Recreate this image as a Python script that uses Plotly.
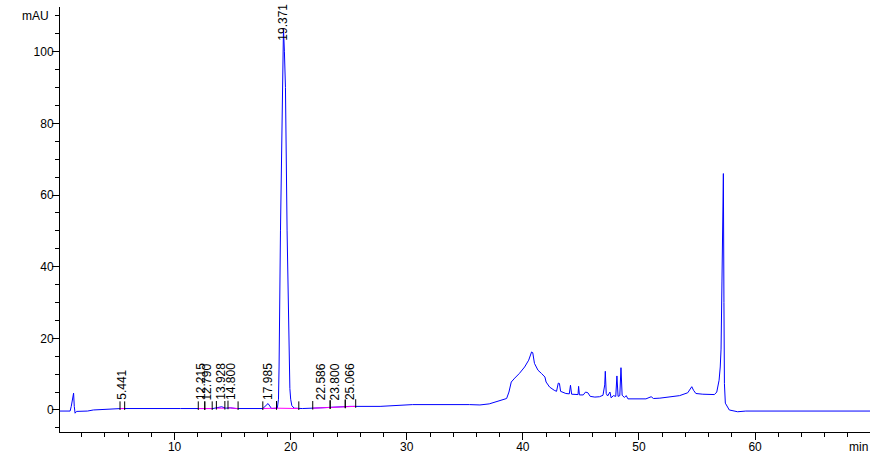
import plotly.graph_objects as go

# Chromatogram trace (time in min, signal in mAU)
time_min = [0.13, 1.0, 1.1, 1.2, 1.3, 1.36, 1.43, 1.55, 2.5, 3.0, 4.4, 5.4, 10.5, 12.0, 12.3, 12.6,
            12.9, 13.3, 14.05, 14.4, 14.8, 15.3, 17.6, 18.05, 18.35, 18.85, 18.95, 19.0, 19.12, 19.3,
            19.38, 19.46, 19.55, 19.69, 19.8, 19.86, 19.93, 20.0, 20.1, 20.3, 21.0, 22.6, 23.8, 25.1,
            27.7, 30.5, 35.4, 36.3, 37.1, 38.0, 38.6, 38.8, 39.0, 39.3, 39.7, 40.15, 40.5, 40.75,
            40.85, 41.0, 41.3, 41.6, 41.9, 42.0, 42.3, 42.7, 42.9, 43.05, 43.15, 43.25, 43.7, 44.0,
            44.1, 44.2, 44.6, 44.75, 44.8, 44.87, 45.2, 45.4, 45.6, 45.8, 46.2, 46.6, 46.9, 47.05,
            47.1, 47.18, 47.3, 47.5, 47.6, 47.8, 48.0, 48.1, 48.2, 48.35, 48.45, 48.55, 48.75, 48.9,
            49.05, 50.6, 51.05, 51.25, 51.8, 53.5, 54.2, 54.4, 54.55, 54.7, 54.9, 55.5, 56.5, 56.7,
            56.9, 57.0, 57.07, 57.15, 57.22, 57.27, 57.32, 57.36, 57.44, 57.78, 58.5, 59.2, 69.9]
signal_mau = [-0.3, -0.3, 1.0, 2.5, 4.7, 1.0, -0.9, -0.4, -0.3, 0.0, 0.2, 0.4, 0.4, 0.4, 0.5, 0.4,
              0.5, 0.4, 0.9, 0.5, 0.6, 0.4, 0.4, 1.8, 0.4, 0.5, 3.0, 12.0, 50.0, 92.0,
              106.5, 100.0, 90.0, 50.0, 24.0, 14.0, 6.0, 3.0, 1.2, 0.5, 0.4, 0.6, 0.8, 1.0,
              1.0, 1.5, 1.5, 1.4, 1.7, 2.5, 3.2, 5.0, 7.8, 8.9, 10.2, 12.0, 13.9, 16.2,
              16.0, 13.0, 11.1, 10.2, 9.2, 7.8, 6.4, 5.5, 5.2, 7.5, 7.4, 5.2, 4.6, 4.5,
              6.9, 4.4, 4.2, 4.3, 6.6, 4.2, 4.2, 5.0, 4.8, 3.8, 3.6, 3.7, 4.1, 7.0,
              10.8, 4.6, 3.9, 5.0, 3.4, 4.0, 3.8, 9.5, 3.8, 4.0, 11.8, 4.1, 3.5, 4.0,
              3.1, 3.1, 3.7, 3.2, 3.3, 4.0, 4.8, 6.0, 6.5, 5.5, 4.6, 4.4, 4.3, 5.0,
              8.3, 12.0, 17.0, 36.0, 55.0, 66.0, 30.0, 7.4, 1.9, 0.0, -0.5, -0.3, -0.3]

# Peak retention-time labels
peak_rt = [5.441, 12.215, 12.790, 13.928, 14.800, 17.985, 19.371, 22.586, 23.800, 25.066]
peak_label_y = [2.2, 2.2, 2.2, 2.2, 2.2, 2.2, 102.5, 2.2, 2.2, 2.2]

# Integration baselines (start/end time and level)
base_start = [5.30, 12.04, 12.60, 13.60, 14.60, 17.60, 18.78, 21.90, 23.40, 24.70]
base_end = [5.70, 12.60, 13.24, 14.33, 15.47, 18.78, 20.70, 23.40, 24.70, 25.60]
base_start_lvl = [0.4, 0.4, 0.4, 0.5, 0.6, 0.4, 0.5, 0.5, 0.7, 0.9]
base_end_lvl = [0.4, 0.4, 0.4, 0.5, 0.4, 0.5, 0.4, 0.7, 0.9, 1.0]

# x / y ticks
x_tickvals = [10, 20, 30, 40, 50, 60]
y_tickvals = [0, 20, 40, 60, 80, 100]

FONT = "Liberation Sans, Arial, sans-serif"

fig = go.Figure()

fig.add_trace(go.Scatter(x=time_min, y=signal_mau, mode="lines",
                         line=dict(color="#0000FF", width=1), hoverinfo="skip"))

# magenta baseline segments
bx, by = [], []
for s, e, ls, le in zip(base_start, base_end, base_start_lvl, base_end_lvl):
    bx += [s, e, None]
    by += [ls, le, None]
fig.add_trace(go.Scatter(x=bx, y=by, mode="lines",
                         line=dict(color="#FF00FF", width=1), hoverinfo="skip"))

# black start/end tick marks
tx, ty = [], []
for s, e, ls, le in zip(base_start, base_end, base_start_lvl, base_end_lvl):
    tx += [s, s, None, e, e, None]
    ty += [ls - 0.4, ls + 2.0, None, le - 0.4, le + 2.0, None]
fig.add_trace(go.Scatter(x=tx, y=ty, mode="lines",
                         line=dict(color="black", width=1), hoverinfo="skip"))

annotations = []
for rt, ly in zip(peak_rt, peak_label_y):
    annotations.append(dict(x=rt, y=ly, xref="x", yref="y", text=f"{rt:.3f}",
                            textangle=-90, showarrow=False, xanchor="center",
                            yanchor="bottom", font=dict(family=FONT, size=12, color="black")))
annotations.append(dict(x=0, y=110, xref="paper", yref="y", text="mAU", showarrow=False,
                        xanchor="right", yanchor="middle", xshift=-9,
                        font=dict(family=FONT, size=12, color="black")))
annotations.append(dict(x=1, y=0, xref="paper", yref="paper", text="min", showarrow=False,
                        xanchor="right", yanchor="top", yshift=-6,
                        font=dict(family=FONT, size=12, color="black")))

fig.update_layout(
    width=871, height=453,
    margin=dict(l=60, r=1, t=7, b=21, autoexpand=False),
    paper_bgcolor="white", plot_bgcolor="white",
    showlegend=False,
    annotations=annotations,
    xaxis=dict(range=[0.13, 69.9], showline=True, linecolor="black", linewidth=1,
               automargin=False, ticklabelstandoff=-3,
               ticks="outside", ticklen=7, tickcolor="black", tickwidth=1,
               tickvals=x_tickvals, ticktext=[str(v) for v in x_tickvals],
               showgrid=False, zeroline=False,
               tickfont=dict(family=FONT, size=12, color="black"),
               minor=dict(dtick=2, tick0=0, ticks="outside", ticklen=4,
                          tickcolor="black", showgrid=False)),
    yaxis=dict(range=[-6.15, 112.5], showline=True, linecolor="black", linewidth=1,
               automargin=False, ticklabelstandoff=-4,
               ticks="outside", ticklen=7, tickcolor="black", tickwidth=1,
               tickvals=y_tickvals, ticktext=[str(v) for v in y_tickvals],
               showgrid=False, zeroline=False,
               tickfont=dict(family=FONT, size=12, color="black"),
               minor=dict(dtick=5, tick0=0, ticks="outside", ticklen=4,
                          tickcolor="black", showgrid=False)),
)

fig.write_html("out.html", config={"displayModeBar": False},
               post_script="document.body.style.margin='0px';")
